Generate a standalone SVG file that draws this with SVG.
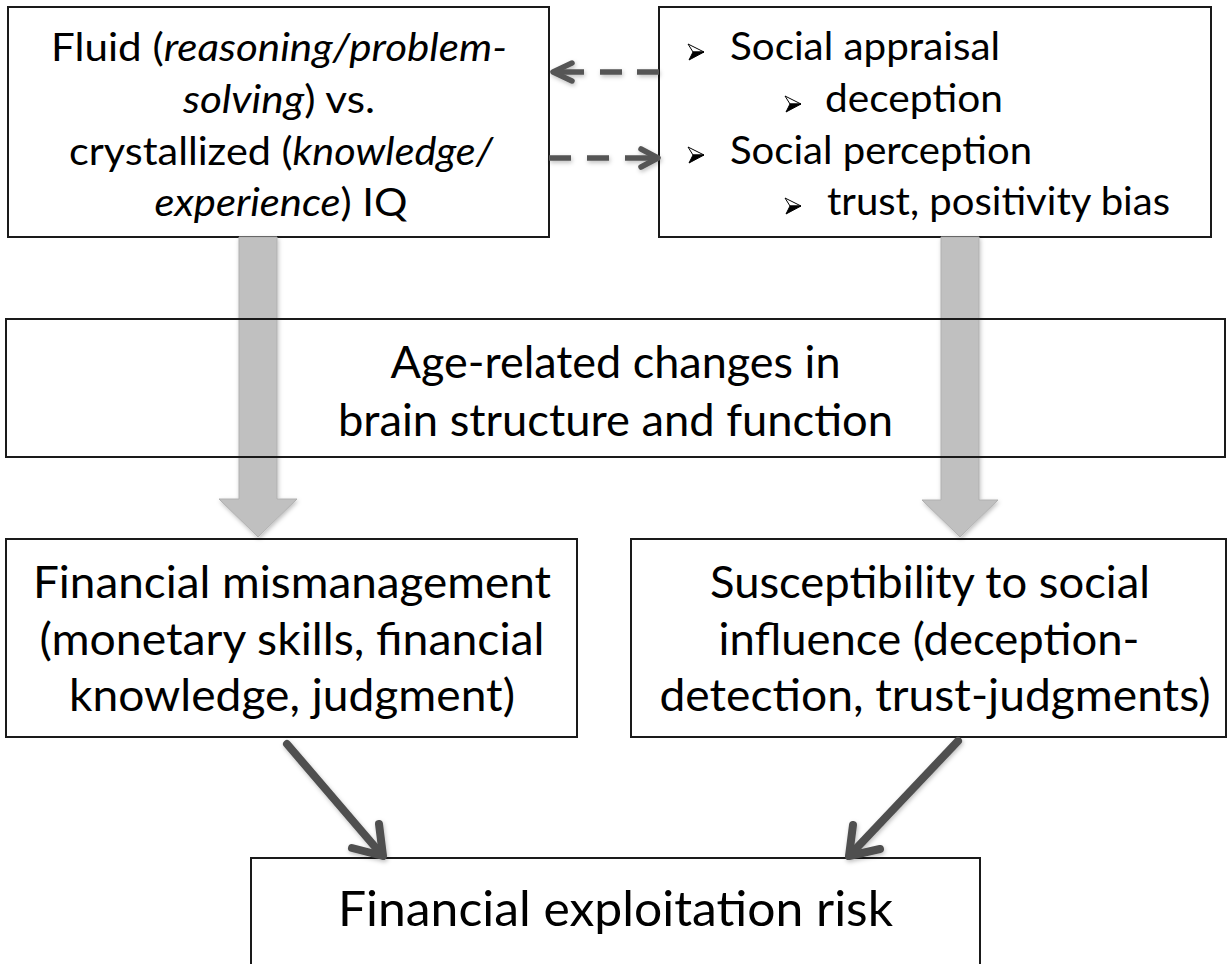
<svg xmlns="http://www.w3.org/2000/svg" xmlns:xlink="http://www.w3.org/1999/xlink" width="1230" height="964" viewBox="0 0 1230 964">
  <style>
    .box { fill: #ffffff; stroke: #1a1a1a; stroke-width: 2; }
    .frame { fill: none; stroke: #1a1a1a; stroke-width: 2; }
    text { font-family: Lato, "Liberation Sans", sans-serif; fill: #000000; }
    .c { text-anchor: middle; }
    .s39 { font-size: 39px; }
    .s44 { font-size: 44px; }
    .s48 { font-size: 48px; }
    .it { font-style: italic; }
    .broad { fill: #c0c0c0; stroke: #b0b0b0; stroke-width: 1; }
    .dash { fill: none; stroke: #555555; stroke-width: 5.5; stroke-linecap: butt; }
    .head { fill: none; stroke: #555555; stroke-width: 5.5; stroke-linecap: round; stroke-linejoin: round; }
    .solid { fill: none; stroke: #505050; stroke-width: 8; stroke-linecap: round; stroke-linejoin: round; }
  </style>
  <defs>
    <filter id="soft" x="-20%" y="-20%" width="140%" height="140%">
      <feDropShadow dx="1" dy="2" stdDeviation="2" flood-color="#000000" flood-opacity="0.25"/>
    </filter>
    <!-- arrowhead bullet: outlined upper half, filled lower half -->
    <g id="bullet">
      <path d="M-8,-8 L8,0 L-3,0 Z" fill="#ffffff" stroke="#000000" stroke-width="1" stroke-linejoin="round"/>
      <path d="M-3,0 L8,0 L-7,8 Z" fill="#000000" stroke="#000000" stroke-width="1" stroke-linejoin="round"/>
    </g>
  </defs>

  <!-- top left: intelligence -->
  <g id="node-iq">
    <rect class="box" x="8" y="7" width="541" height="230"/>
    <text class="c s39" x="279" y="61" textLength="456" lengthAdjust="spacingAndGlyphs">Fluid (<tspan class="it">reasoning/problem-</tspan></text>
    <text class="c s39" x="279" y="113" textLength="192" lengthAdjust="spacingAndGlyphs"><tspan class="it">solving</tspan>) vs.</text>
    <text class="c s39" x="281" y="165" textLength="424" lengthAdjust="spacingAndGlyphs">crystallized (<tspan class="it">knowledge/</tspan></text>
    <text class="c s39" x="281" y="216" textLength="253" lengthAdjust="spacingAndGlyphs"><tspan class="it">experience</tspan>) IQ</text>
  </g>

  <!-- top right: social cognition -->
  <g id="node-social">
    <rect class="box" x="659" y="7" width="552" height="230"/>
    <use xlink:href="#bullet" x="696" y="52"/>
    <text class="s39" x="730" y="60" textLength="270" lengthAdjust="spacingAndGlyphs">Social appraisal</text>
    <use xlink:href="#bullet" x="793" y="104"/>
    <text class="s39" x="825" y="112" textLength="178" lengthAdjust="spacingAndGlyphs">deception</text>
    <use xlink:href="#bullet" x="696" y="155"/>
    <text class="s39" x="730" y="164" textLength="302" lengthAdjust="spacingAndGlyphs">Social perception</text>
    <use xlink:href="#bullet" x="793" y="206"/>
    <text class="s39" x="827" y="215" textLength="343" lengthAdjust="spacingAndGlyphs">trust, positivity bias</text>
  </g>

  <!-- lower left: financial mismanagement -->
  <g id="node-finance">
    <rect class="box" x="6" y="539" width="571" height="198"/>
    <text class="c s44" x="292" y="598" textLength="518" lengthAdjust="spacingAndGlyphs">Financial mismanagement</text>
    <text class="c s44" x="292" y="655" textLength="505" lengthAdjust="spacingAndGlyphs">(monetary skills, financial</text>
    <text class="c s44" x="292" y="711" textLength="446" lengthAdjust="spacingAndGlyphs">knowledge, judgment)</text>
  </g>

  <!-- lower right: social influence -->
  <g id="node-influence">
    <rect class="box" x="631" y="539" width="595" height="198"/>
    <text class="c s44" x="930" y="598" textLength="440" lengthAdjust="spacingAndGlyphs">Susceptibility to social</text>
    <text class="c s44" x="929" y="655" textLength="421" lengthAdjust="spacingAndGlyphs">influence (deception-</text>
    <text class="c s44" x="935" y="711" textLength="551" lengthAdjust="spacingAndGlyphs">detection, trust-judgments)</text>
  </g>

  <!-- bottom: outcome -->
  <g id="node-risk">
    <rect class="box" x="251" y="858" width="729" height="112"/>
    <text class="c s48" x="615.5" y="926" textLength="555" lengthAdjust="spacingAndGlyphs">Financial exploitation risk</text>
  </g>

  <g id="connectors">
    <!-- broad grey arrows running through the brain-change band -->
    <g filter="url(#soft)">
      <path class="broad" d="M239,237 H277 V499 H297 L258,537 L219,499 H239 Z"/>
      <path class="broad" d="M941,237 H979 V500 H998 L960,537 L922,500 H941 Z"/>
    </g>
    <!-- dashed two-way link between the top boxes -->
    <g filter="url(#soft)">
      <path class="dash" d="M659,72 H637 M622,72 H600 M584,72 H556"/>
      <path class="head" d="M572,63 L553,72 L572,81"/>
      <path class="dash" d="M549,158 H571 M587,158 H609 M625,158 H656"/>
      <path class="head" d="M641,149 L658,158 L641,167"/>
    </g>
    <!-- solid arrows into the outcome -->
    <g filter="url(#soft)">
      <path class="solid" d="M287,744 L382,855"/>
      <path class="solid" d="M352,848 L383,856 L379,824"/>
      <path class="solid" d="M958,741 L850,855"/>
      <path class="solid" d="M880,849 L849,856 L853,825"/>
    </g>
  </g>

  <!-- middle band: brain changes (frame drawn over the grey arrows) -->
  <g id="node-brain">
    <rect class="frame" x="6" y="319" width="1219" height="138"/>
    <text class="c s44" x="615.5" y="378" textLength="450" lengthAdjust="spacingAndGlyphs">Age-related changes in</text>
    <text class="c s44" x="615.5" y="436" textLength="555" lengthAdjust="spacingAndGlyphs">brain structure and function</text>
  </g>
</svg>
